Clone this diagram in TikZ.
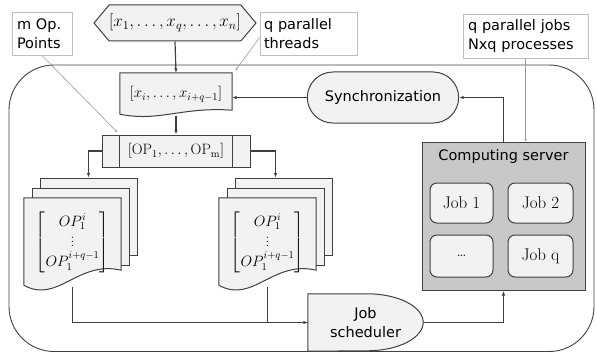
\RequirePackage{fix-cm}
\documentclass[tikz,border=0pt]{standalone}
\usepackage{amsmath}
\usepackage{fontspec}
\setsansfont{DejaVu Sans}
\usepackage{tikz}
\usetikzlibrary{shapes,arrows.meta,positioning,calc}
\pgfdeclarelayer{background}
\pgfsetlayers{background,main}

\definecolor{linegray}{HTML}{404040}
\definecolor{shapefill}{HTML}{F2F2F2}
\definecolor{serverfill}{HTML}{C8C8C8}
\definecolor{notegray}{HTML}{BFBFBF}

\newcommand{\lblfont}{\sffamily\fontsize{14.5}{19.5}\selectfont}
\newcommand{\jbfont}{\rmfamily\fontsize{17}{20}\selectfont}
\newcommand{\mathsz}{\fontsize{15}{18}\selectfont}

% sheet of paper with a wavy lower edge, drawn round a node
\newcommand{\wavysheet}[2]{%
  \draw[sheet] ([yshift=2pt]#1.south west) -- (#1.north west) -- (#1.north east)
    -- ([yshift=#2pt]#1.south east)
    .. controls ($(#1.south west)!0.55!(#1.south east)+(0pt,1.6*#2pt)$)
    and ($(#1.south west)!0.35!(#1.south east)+(0pt,-#2pt)$)
    .. ([yshift=2pt]#1.south west) -- cycle;}

\begin{document}
\begin{tikzpicture}[x=1pt,y=-1pt,
    line/.style={draw=linegray, line width=1.2pt},
    link/.style={line, -{Latex[length=4.5pt,width=3.5pt]}},
    box/.style={draw=linegray, fill=shapefill, line width=1pt},
    sheet/.style={draw=linegray, fill=shapefill, line width=1pt},
    jobbox/.style={box, rounded corners=7pt, minimum width=63pt, minimum height=40pt, font=\jbfont},
    note/.style={draw=notegray, fill=white, line width=0.8pt, align=left, inner ysep=3pt, font=\lblfont},
    notelink/.style={draw=notegray!80!black, line width=0.6pt, -{Latex[length=3pt,width=2.5pt]}}]
    \useasboundingbox (0,0) rectangle (597,353);

    % Input vector and thread slice
    \node[signal, signal to=west and east, signal pointer angle=100, box, minimum width=150pt,
      minimum height=36pt, inner sep=0pt, font=\fontsize{17}{20}\selectfont] (input) at (175,23) {$[x_1, \dots, x_q, \dots, x_n]$};
    \node[minimum width=112pt, minimum height=43pt, inner sep=0pt, font=\mathsz] (xi) at (176,94.5) {$[x_i, \dots, x_{i+q-1}]$};

    % Operating points
    \node[box, minimum width=148pt, minimum height=32pt, font=\mathsz] (oplist) at (176,151) {$[\mathrm{OP}_1, \dots, \mathrm{OP}_\mathrm{m}]$};
    \draw[draw=linegray, line width=1pt] ([xshift=18pt]oplist.north west) -- ([xshift=18pt]oplist.south west)
      ([xshift=-18pt]oplist.north east) -- ([xshift=-18pt]oplist.south east);

    \node[minimum width=97pt, minimum height=89pt, inner sep=0pt, font=\mathsz] (lfront) at (72.5,242.5)
      {$\begin{bmatrix} OP_1^i\\ \vdots\\ OP_1^{i+q-1}\end{bmatrix}$};
    \node[minimum width=97pt, minimum height=89pt, inner sep=0pt, font=\mathsz] (rfront) at (267.5,242.5)
      {$\begin{bmatrix} OP_1^i\\ \vdots\\ OP_1^{i+q-1}\end{bmatrix}$};

    % Synchronization and scheduler
    \node[rounded rectangle, box, minimum width=158pt, minimum height=51pt, font=\lblfont] (sync) at (383,97.5) {Synchronization};
    \node[minimum width=115pt, minimum height=57pt, align=center, font=\lblfont] (sched) at (365.5,322.5) {Job\\scheduler};

    % Computing server
    \node[box, fill=serverfill, anchor=north, minimum width=163pt, inner ysep=5pt, text height=13pt,
      text depth=125pt, font=\lblfont] (server) at (503.5,142) {Computing server};
    \node[jobbox] (job1) at (461.5,203) {Job 1};
    \node[jobbox, minimum width=65pt] (job2) at (540.5,203) {Job 2};
    \node[jobbox, minimum height=42pt] (jobdots) at (461.5,256) {\dots};
    \node[jobbox, minimum width=65pt, minimum height=42pt] (jobq) at (540.5,256) {Job q};

    % Notes
    \node[note, inner xsep=5pt, text width=50pt, minimum height=43pt] (mop) at (42,33.5) {m Op.\\Points};
    \node[note, inner xsep=4pt, text width=89pt, minimum height=43pt] (qthr) at (308.5,33.5) {q parallel\\threads};
    \node[note, inner xsep=5pt, text width=115pt, minimum height=44pt] (qjobs) at (525.5,36) {q parallel jobs\\Nxq processes};

    \begin{pgfonlayer}{background}
      % Outer frame
      \draw[draw=linegray, line width=0.9pt, rounded corners=45pt] (9,65) rectangle (594,351.5);

      % Stacked sheets
      \node[sheet, minimum width=97pt, minimum height=77pt] (lback) at (88.5,216.5) {};
      \node[sheet, minimum width=97pt, minimum height=77pt] (lmid) at (80.5,226.5) {};
      \node[sheet, minimum width=97pt, minimum height=77pt] (rback) at (283.5,216.5) {};
      \node[sheet, minimum width=97pt, minimum height=77pt] (rmid) at (275.5,226.5) {};

      % Flow
      \draw[link] (input.south) -- (xi.north);
      \draw[link] (xi.south) -- (oplist.north);
      \draw[link] (oplist.west) -| (lback.north);
      \draw[link] (oplist.east) -| ([xshift=-8pt]rback.north);
      \draw[line] (rfront.south) |- (sched.west);
      \draw[link] (lfront.south) |- (sched.west);
      \draw[link] (sched.east) -| (server.south);
      \draw[link] (server.north) |- (sync.east);
      \draw[link] (sync.west) -- (sync.west -| xi.east);

      % Note pointers
      \draw[notelink] (mop.south) -- ([shift={(16pt,2pt)}]oplist.north west);
      \draw[notelink] ([yshift=-4pt]qthr.west) -- ([shift={(3pt,2pt)}]xi.north east);
      \draw[notelink] (qjobs.south) -- (qjobs.south |- server.north);

      % Sheet outlines
      \wavysheet{xi}{6}
      \wavysheet{lfront}{17}
      \wavysheet{rfront}{17}
      \draw[sheet] (sched.north west) -- ([xshift=-56pt]sched.north east)
        arc[start angle=90, end angle=-90, x radius=56pt, y radius=28.5pt] -- (sched.south west) -- cycle;
    \end{pgfonlayer}
\end{tikzpicture}
\end{document}
